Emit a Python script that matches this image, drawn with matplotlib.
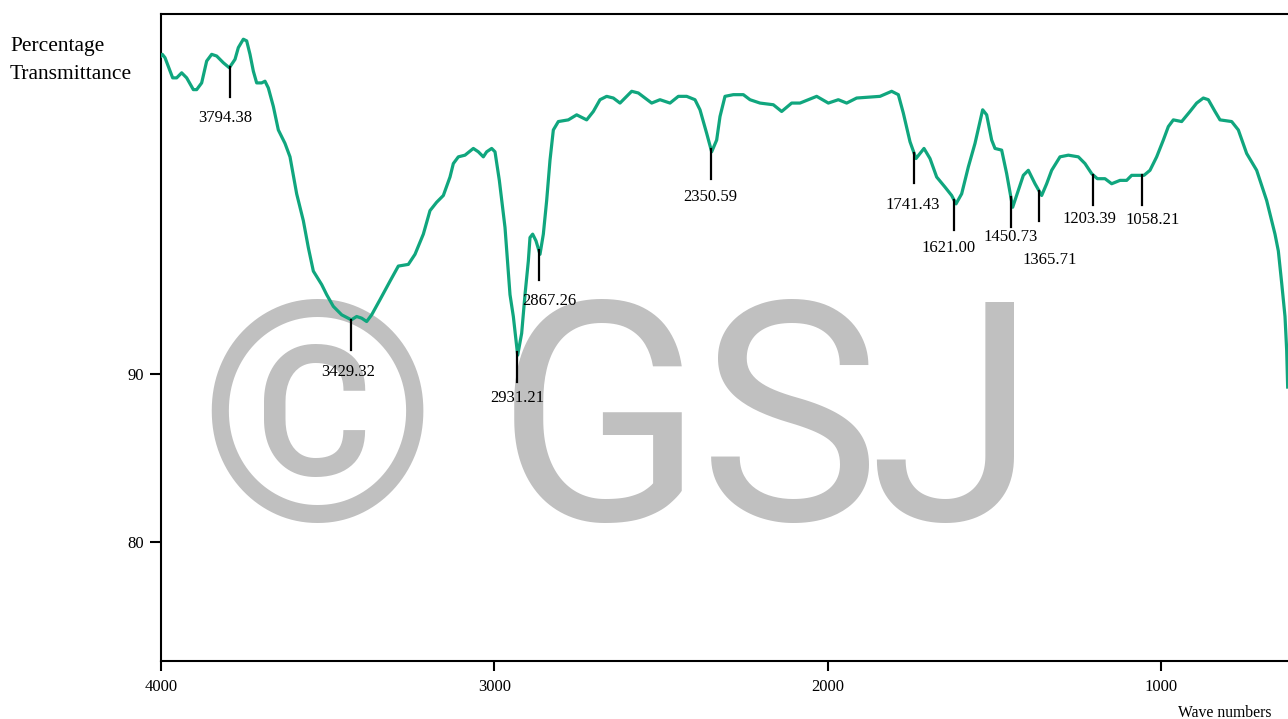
import numpy as np
import matplotlib
matplotlib.use("Agg")
import matplotlib.pyplot as plt

# FTIR spectrum (wavenumber, % transmittance)
wavenumber = [4000, 3996, 3988, 3965, 3953, 3938, 3923, 3903, 3893, 3878,
              3863, 3848, 3833, 3813, 3795, 3778, 3768, 3753, 3743, 3733,
              3723, 3713, 3698, 3688, 3678, 3663, 3648, 3628, 3613, 3593,
              3573, 3558, 3543, 3518, 3503, 3483, 3458, 3429, 3413, 3398,
              3383, 3368, 3343, 3313, 3288, 3258, 3238, 3213, 3193, 3173,
              3153, 3133, 3123, 3108, 3088, 3063, 3048, 3033, 3023, 3008,
              2998, 2985, 2968, 2953, 2943, 2930, 2918, 2908, 2898, 2893,
              2885, 2875, 2863, 2853, 2843, 2833, 2823, 2808, 2778, 2753,
              2723, 2703, 2683, 2663, 2643, 2623, 2603, 2588, 2568, 2548,
              2528, 2503, 2473, 2448, 2423, 2398, 2383, 2363, 2348, 2333,
              2323, 2308, 2283, 2253, 2233, 2203, 2163, 2138, 2108, 2083,
              2033, 1998, 1968, 1943, 1913, 1843, 1808, 1788, 1773, 1753,
              1735, 1711, 1693, 1673, 1648, 1628, 1615, 1598, 1578, 1558,
              1535, 1523, 1508, 1498, 1478, 1463, 1445, 1428, 1413, 1398,
              1378, 1358, 1343, 1328, 1303, 1278, 1248, 1228, 1208, 1191,
              1168, 1148, 1123, 1103, 1088, 1051, 1033, 1013, 993, 978,
              963, 938, 913, 893, 873, 858, 838, 823, 788, 768,
              743, 713, 683, 668, 658, 648, 638, 628, 623, 620]
transmittance = [108.9, 109.0, 108.8, 107.6, 107.6, 107.9, 107.6, 106.9, 106.9, 107.3,
                 108.6, 109.0, 108.9, 108.5, 108.2, 108.7, 109.4, 109.9, 109.8, 109.0,
                 108.0, 107.3, 107.3, 107.4, 107.0, 105.9, 104.5, 103.7, 102.9, 100.7,
                 99.1, 97.5, 96.1, 95.3, 94.7, 94.0, 93.5, 93.2, 93.4, 93.3,
                 93.1, 93.5, 94.4, 95.5, 96.4, 96.5, 97.1, 98.3, 99.7, 100.2,
                 100.6, 101.7, 102.5, 102.9, 103.0, 103.4, 103.2, 102.9, 103.2, 103.4,
                 103.2, 101.5, 98.7, 94.7, 93.4, 91.1, 92.4, 94.7, 96.7, 98.1,
                 98.3, 97.9, 97.1, 98.3, 100.3, 102.7, 104.5, 105.0, 105.1, 105.4,
                 105.1, 105.6, 106.3, 106.5, 106.4, 106.1, 106.5, 106.8, 106.7, 106.4,
                 106.1, 106.3, 106.1, 106.5, 106.5, 106.3, 105.7, 104.3, 103.2, 103.9,
                 105.3, 106.5, 106.6, 106.6, 106.3, 106.1, 106.0, 105.6, 106.1, 106.1,
                 106.5, 106.1, 106.3, 106.1, 106.4, 106.5, 106.8, 106.6, 105.5, 103.8,
                 102.8, 103.4, 102.8, 101.7, 101.1, 100.6, 100.1, 100.7, 102.3, 103.7,
                 105.7, 105.4, 103.9, 103.4, 103.3, 101.9, 99.9, 100.9, 101.8, 102.1,
                 101.3, 100.6, 101.3, 102.1, 102.9, 103.0, 102.9, 102.5, 101.9, 101.6,
                 101.6, 101.3, 101.5, 101.5, 101.8, 101.8, 102.1, 102.9, 103.9, 104.7,
                 105.1, 105.0, 105.6, 106.1, 106.4, 106.3, 105.6, 105.1, 105.0, 104.5,
                 103.1, 102.1, 100.3, 99.1, 98.3, 97.3, 95.4, 93.4, 91.4, 89.2]

# labelled peaks
peaks = [3794.38, 3429.32, 2931.21, 2867.26, 2350.59, 1741.43,
         1621.00, 1450.73, 1365.71, 1203.39, 1058.21]
# label offsets in pixels (dx, dy below the curve)
label_off = [(-4, -43), (-3, -44), (0, -38), (11, -43), (-1, -40), (-1, -44),
             (-5, -40), (0, -32), (11, -61), (-4, -36), (11, -37)]

yticks = [80, 90]
xticks = [4000, 3000, 2000, 1000]

# watermark glyphs and their centres (pixels)
wm_chars = ["\u00a9", "G", "S", "J"]
wm_x = [317, 600, 790, 952]

green = "#10a67e"
serif = "Liberation Serif"

fig = plt.figure(figsize=(12.88, 7.19), dpi=100)
ax = fig.add_axes([161 / 1288, 1 - 661 / 719, 1 - 161 / 1288, (661 - 14) / 719])

# watermark behind the spectrum
for ch, x in zip(wm_chars, wm_x):
    ax.text(x / 1288, 1 - 520 / 719, ch, transform=fig.transFigure,
            fontsize=220, family="Roboto", color="#c0c0c0",
            ha="center", va="baseline", zorder=0)

ax.plot(wavenumber, transmittance, color=green, lw=2.3, zorder=3)

# peak markers
wn_asc = np.array(wavenumber[::-1])
tr_asc = np.array(transmittance[::-1])
px_per_unit = 16.8
for p, (dx, dy) in zip(peaks, label_off):
    t = np.interp(p, wn_asc, tr_asc)
    ax.plot([p, p], [t, t - 30 / px_per_unit], color="black", lw=1.6, zorder=4)
    ax.annotate(f"{p:.2f}", (p, t), xytext=(dx, dy), textcoords="offset pixels",
                ha="center", va="top", fontsize=12, family=serif, zorder=5)

ax.set_xlim(4000, 619)
ax.set_ylim(72.9, 111.4)
ax.set_xticks(xticks)
ax.set_yticks(yticks)
ax.tick_params(axis="both", direction="out", width=1.5, labelsize=12, color="black")
ax.tick_params(axis="y", length=8, pad=4)
ax.tick_params(axis="x", length=7, pad=6)
for lab in ax.get_xticklabels() + ax.get_yticklabels():
    lab.set_family(serif)

for side in ["left", "bottom", "top"]:
    ax.spines[side].set_linewidth(1.5)
ax.spines["right"].set_visible(False)

fig.text(10 / 1288, 1 - 51 / 719, "Percentage", fontsize=15.5, family=serif, va="baseline")
fig.text(10 / 1288, 1 - 79 / 719, "Transmittance", fontsize=15.5, family=serif, va="baseline")
fig.text(1178 / 1288, 1 - 717 / 719, "Wave numbers", fontsize=11.3, family=serif, va="baseline")

fig.savefig("out.png", dpi=100)
